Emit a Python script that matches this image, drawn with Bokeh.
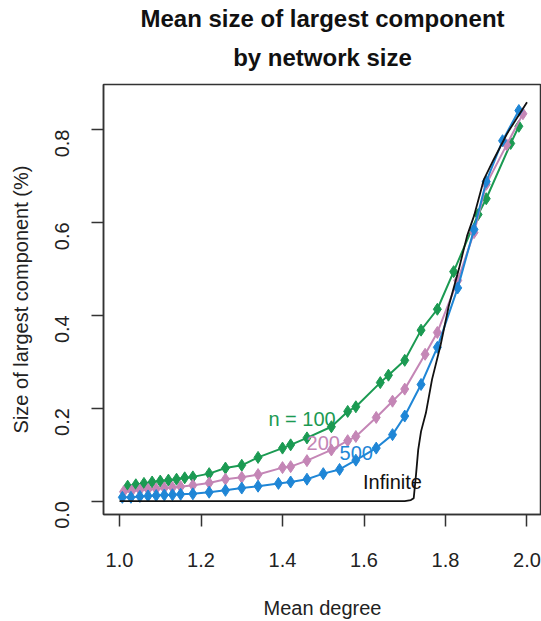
import math
from bokeh.plotting import figure
from bokeh.models import Range1d, FixedTicker, Title
from bokeh.embed import file_html
from bokeh.resources import INLINE
from bokeh.core.properties import value

# ---- data ----
x_n100 = [1.02, 1.04, 1.06, 1.08, 1.10, 1.12, 1.14, 1.16, 1.18, 1.22, 1.26, 1.30, 1.34,
          1.40, 1.42, 1.46, 1.52, 1.56, 1.58, 1.64, 1.66, 1.70, 1.74, 1.78, 1.82,
          1.88, 1.90, 1.96, 1.98]
y_n100 = [0.032, 0.035, 0.038, 0.041, 0.043, 0.045, 0.047, 0.050, 0.052, 0.059, 0.071, 0.077, 0.094,
          0.114, 0.121, 0.136, 0.160, 0.193, 0.203, 0.255, 0.271, 0.303, 0.368, 0.413, 0.494,
          0.617, 0.651, 0.770, 0.807]

x_n200 = [1.01, 1.03, 1.05, 1.07, 1.09, 1.11, 1.13, 1.15, 1.18, 1.22, 1.26, 1.30, 1.34,
          1.40, 1.42, 1.46, 1.52, 1.56, 1.58, 1.63, 1.67, 1.70, 1.75, 1.78, 1.83,
          1.87, 1.90, 1.95, 1.99]
y_n200 = [0.020, 0.0215, 0.0235, 0.025, 0.026, 0.028, 0.029, 0.031, 0.034, 0.039, 0.047, 0.051, 0.057,
          0.072, 0.074, 0.087, 0.110, 0.130, 0.139, 0.180, 0.215, 0.241, 0.316, 0.363, 0.475,
          0.578, 0.682, 0.767, 0.834]

x_n500 = [1.007, 1.028, 1.05, 1.07, 1.09, 1.11, 1.13, 1.15, 1.18, 1.22, 1.26, 1.30, 1.34,
          1.39, 1.42, 1.46, 1.50, 1.54, 1.58, 1.63, 1.67, 1.70, 1.74, 1.78, 1.83,
          1.87, 1.90, 1.94, 1.98]
y_n500 = [0.008, 0.008, 0.010, 0.011, 0.012, 0.013, 0.0135, 0.0145, 0.0155, 0.019, 0.023, 0.028, 0.032,
          0.038, 0.041, 0.047, 0.059, 0.068, 0.088, 0.114, 0.143, 0.183, 0.251, 0.331, 0.459,
          0.585, 0.688, 0.776, 0.841]

x_inf = [1.00, 1.70, 1.715, 1.722, 1.728, 1.733, 1.740, 1.752, 1.767, 1.788, 1.808, 1.833,
         1.853, 1.870, 1.894, 1.918, 1.951, 2.00]
y_inf = [0.0, 0.0, 0.002, 0.006, 0.06, 0.11, 0.15, 0.19, 0.262, 0.336, 0.42, 0.50,
         0.571, 0.614, 0.692, 0.735, 0.791, 0.859]

series_names = ["n = 100", "200", "500", "Infinite"]
label_x = [1.448, 1.500, 1.581, 1.670]
label_y = [0.176, 0.125, 0.1035, 0.0405]

x_ticks = [1.0, 1.2, 1.4, 1.6, 1.8, 2.0]
x_tick_labels = ["1.0", "1.2", "1.4", "1.6", "1.8", "2.0"]
y_ticks = [0.0, 0.2, 0.4, 0.6, 0.8]
y_tick_labels = ["0.0", "0.2", "0.4", "0.6", "0.8"]

title_lines = ["Mean size of largest component", "by network size"]
x_title = "Mean degree"
y_title = "Size of largest component (%)"

# ---- styling ----
GREEN = "#1b9a52"
PINK = "#c486b6"
BLUE = "#1f86d6"
BLACK = "#111111"
FONT = "Liberation Sans"
W, H = 541, 621

p = figure(width=W, height=H, output_backend="svg", toolbar_location=None,
           x_range=Range1d(0.9607, 2.0356), y_range=Range1d(-0.029, 0.897),
           min_border_left=103, min_border_right=0, min_border_top=84, min_border_bottom=103,
           background_fill_color="white", border_fill_color="white")

p.title = None
t2 = Title(text=title_lines[1], align="center", text_font=FONT, text_font_size="24px",
           text_font_style="bold", text_color="#111111", standoff=28)
t1 = Title(text=title_lines[0], align="center", text_font=FONT, text_font_size="24px",
           text_font_style="bold", text_color="#111111", standoff=-8)
p.add_layout(t2, "above")
p.add_layout(t1, "above")

p.outline_line_color = "#333333"
p.outline_line_width = 1.5
p.xgrid.visible = False
p.ygrid.visible = False

for ax in (p.xaxis[0], p.yaxis[0]):
    ax.axis_line_color = "#333333"
    ax.axis_line_width = 1.5
    ax.major_tick_line_color = "#333333"
    ax.major_tick_line_width = 1.5
    ax.major_tick_in = 0
    ax.major_tick_out = 12
    ax.minor_tick_line_color = None
    ax.major_label_text_font = FONT
    ax.major_label_text_font_size = "20px"
    ax.major_label_text_color = "#222222"
    ax.axis_label_text_font = FONT
    ax.axis_label_text_font_size = "20px"
    ax.axis_label_text_font_style = "normal"
    ax.axis_label_text_color = "#222222"

p.xaxis[0].ticker = FixedTicker(ticks=x_ticks)
p.xaxis[0].major_label_overrides = dict(zip(x_ticks, x_tick_labels))
p.xaxis[0].axis_label = x_title
p.xaxis[0].major_label_standoff = 26
p.xaxis[0].axis_label_standoff = 27

p.yaxis[0].ticker = FixedTicker(ticks=y_ticks)
p.yaxis[0].major_label_overrides = dict(zip(y_ticks, y_tick_labels))
p.yaxis[0].major_label_orientation = math.pi / 2
p.yaxis[0].axis_label = y_title
p.yaxis[0].major_label_standoff = 29
p.yaxis[0].axis_label_standoff = 14

for xs, ys, col in ((x_n100, y_n100, GREEN), (x_n200, y_n200, PINK), (x_n500, y_n500, BLUE)):
    p.line(xs, ys, line_color=col, line_width=2)
    p.scatter(xs, ys, marker="diamond", size=12, fill_color=col, line_color=col)

p.line(x_inf, y_inf, line_color=BLACK, line_width=1.8)

label_colors = [GREEN, PINK, BLUE, BLACK]
p.text(x=label_x, y=label_y, text=series_names, text_color=label_colors,
       text_font=value(FONT), text_font_size="20px",
       text_align="center", text_baseline="middle")

open("out.html", "w").write(file_html(p, INLINE))
